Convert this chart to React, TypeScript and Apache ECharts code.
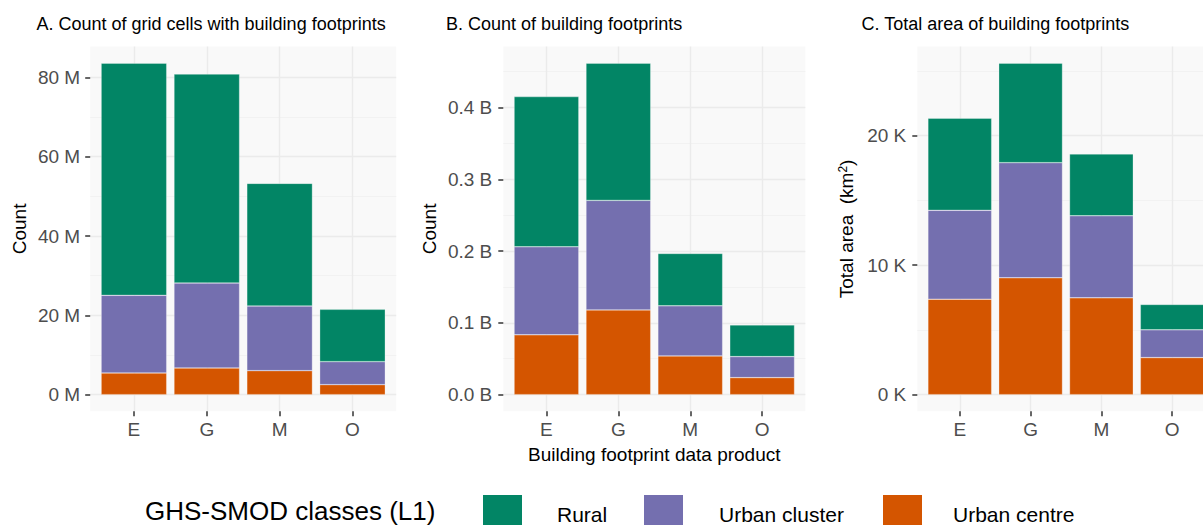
import React, { useEffect, useRef } from "react";
import * as echarts from "echarts";

// ---------------- data ----------------
const categories = ["E", "G", "M", "O"];
const classNames = ["Urban centre", "Urban cluster", "Rural"]; // stacking order, bottom to top
const classColors = ["#D45500", "#746FAF", "#028565"];

// A. Count of grid cells with building footprints
const cellsUrbanCentre = [5.46e6, 6.72e6, 6.05e6, 2.52e6];
const cellsUrbanCluster = [19.58e6, 21.43e6, 16.3e6, 5.8e6];
const cellsRural = [58.56e6, 52.69e6, 30.93e6, 13.19e6];
const cellsMajorTicks = [0, 20e6, 40e6, 60e6, 80e6];
const cellsMinorTicks = [10e6, 30e6, 50e6, 70e6];

// B. Count of building footprints
const footprintsUrbanCentre = [0.0833e9, 0.1181e9, 0.054e9, 0.0237e9];
const footprintsUrbanCluster = [0.1227e9, 0.1526e9, 0.0697e9, 0.0293e9];
const footprintsRural = [0.2093e9, 0.1912e9, 0.073e9, 0.0442e9];
const footprintsMajorTicks = [0, 0.1e9, 0.2e9, 0.3e9, 0.4e9];
const footprintsMinorTicks = [0.05e9, 0.15e9, 0.25e9, 0.35e9, 0.45e9];

// C. Total area of building footprints (km²)
const areaUrbanCentre = [7370, 9020, 7470, 2860];
const areaUrbanCluster = [6860, 8890, 6340, 2140];
const areaRural = [7110, 7680, 4770, 1960];
const areaMajorTicks = [0, 10000, 20000];
const areaMinorTicks = [5000, 15000, 25000];

const FONT = "'Liberation Sans', Arial, Helvetica, sans-serif";

type Panel = {
  title: string;
  titleLeft: number;
  left: number;
  width: number;
  stacks: number[][];
  majors: number[];
  minors: number[];
  fmt: (v: number) => string;
  yName: string;
  yNameGap: number;
  labelMargin: number;
  xName?: string;
};

const panels: Panel[] = [
  {
    title: "A. Count of grid cells with building footprints",
    titleLeft: 36.5,
    left: 90.2,
    width: 306,
    stacks: [cellsUrbanCentre, cellsUrbanCluster, cellsRural],
    majors: cellsMajorTicks,
    minors: cellsMinorTicks,
    fmt: (v) => `${Math.round(v / 1e6)} M`,
    yName: "Count",
    yNameGap: 61,
    labelMargin: 10,
  },
  {
    title: "B. Count of building footprints",
    titleLeft: 446,
    left: 503.3,
    width: 302,
    stacks: [footprintsUrbanCentre, footprintsUrbanCluster, footprintsRural],
    majors: footprintsMajorTicks,
    minors: footprintsMinorTicks,
    fmt: (v) => `${(v / 1e9).toFixed(1)} B`,
    yName: "Count",
    yNameGap: 64,
    labelMargin: 11,
    xName: "Building footprint data product",
  },
  {
    title: "C. Total area of building footprints",
    titleLeft: 861.5,
    left: 917.3,
    width: 297.4,
    stacks: [areaUrbanCentre, areaUrbanCluster, areaRural],
    majors: areaMajorTicks,
    minors: areaMinorTicks,
    fmt: (v) => `${Math.round(v / 1000)} K`,
    yName: "Total area  (km{sup|2})",
    yNameGap: 61,
    labelMargin: 11,
  },
];

const GRID_TOP = 46.6;
const GRID_HEIGHT = 364.6;
// ggplot discrete-axis expansion: 0.6 category units on each side
const X_EXPAND = 0.6;

function buildOption() {
  const grid: any[] = [];
  const xAxis: any[] = [];
  const yAxis: any[] = [];
  const series: any[] = [];
  const title: any[] = [];

  const n = categories.length;
  const span = n - 1 + 2 * X_EXPAND;

  panels.forEach((p, pi) => {
    const totals = categories.map((_, i) => p.stacks.reduce((s, arr) => s + arr[i], 0));
    const maxTotal = Math.max(...totals);
    const yMin = -0.05 * maxTotal;
    const yMax = 1.05 * maxTotal;
    const unit = p.width / span;

    const bgGrid = grid.length;
    // background grid: panel fill, gridlines, ticks and labels
    grid.push({
      left: p.left,
      top: GRID_TOP,
      width: p.width,
      height: GRID_HEIGHT,
      show: true,
      backgroundColor: "#F9F9F9",
      borderWidth: 0,
      containLabel: false,
      outerBoundsMode: "none",
    });
    const barGrid = grid.length;
    // bar grid: category bands, inset so that band centres match the ticks
    grid.push({
      left: p.left + (X_EXPAND - 0.5) * unit,
      top: GRID_TOP,
      width: n * unit,
      height: GRID_HEIGHT,
      show: false,
      containLabel: false,
      outerBoundsMode: "none",
    });

    const catPositions = categories.map((_, i) => i + 1);
    const bgX = xAxis.length;
    xAxis.push({
      type: "value",
      gridIndex: bgGrid,
      min: 1 - X_EXPAND,
      max: n + X_EXPAND,
      position: "bottom",
      name: p.xName || "",
      nameLocation: "middle",
      nameGap: 34,
      nameTextStyle: { fontSize: 19, color: "#000", fontFamily: FONT },
      axisLine: { show: false, onZero: false },
      axisTick: {
        show: true,
        customValues: catPositions,
        length: 5,
        lineStyle: { color: "#333333", width: 1.5 },
      },
      axisLabel: {
        customValues: catPositions,
        margin: 9,
        fontSize: 19,
        color: "#4D4D4D",
        fontFamily: FONT,
        formatter: (v: number) => categories[Math.round(v) - 1] ?? "",
      },
      splitLine: { show: true, lineStyle: { color: "#EBEBEB", width: 1.4 } },
      minorSplitLine: { show: false },
    });
    const barX = xAxis.length;
    xAxis.push({
      type: "category",
      gridIndex: barGrid,
      data: categories,
      boundaryGap: true,
      show: false,
      axisLine: { onZero: false },
    });

    // major y axis (labels, ticks, major gridlines)
    yAxis.push({
      type: "value",
      gridIndex: bgGrid,
      min: yMin,
      max: yMax,
      position: "left",
      name: p.yName,
      nameLocation: "middle",
      nameGap: p.yNameGap,
      nameTextStyle: {
        fontSize: 19,
        color: "#000",
        fontFamily: FONT,
        rich: { sup: { fontSize: 12, verticalAlign: "top", color: "#000", fontFamily: FONT } },
      },
      axisLine: { show: false, onZero: false },
      axisTick: {
        show: true,
        customValues: p.majors,
        length: 5,
        lineStyle: { color: "#333333", width: 1.5 },
      },
      axisLabel: {
        customValues: p.majors,
        margin: p.labelMargin,
        fontSize: 19,
        color: "#4D4D4D",
        fontFamily: FONT,
        formatter: (v: number) => p.fmt(v),
      },
      splitLine: { show: true, lineStyle: { color: "#EBEBEB", width: 1.4 } },
    });
    // minor y axis (minor gridlines only)
    yAxis.push({
      type: "value",
      gridIndex: bgGrid,
      min: yMin,
      max: yMax,
      position: "right",
      axisLine: { show: false, onZero: false },
      axisTick: { show: false, customValues: p.minors },
      axisLabel: { show: false, customValues: p.minors },
      splitLine: { show: true, lineStyle: { color: "#F0F0F0", width: 0.8 } },
    });
    const barY = yAxis.length;
    yAxis.push({
      type: "value",
      gridIndex: barGrid,
      min: yMin,
      max: yMax,
      show: false,
    });

    // dummy reference to bgX to keep linter quiet
    void bgX;

    p.stacks.forEach((vals, si) => {
      series.push({
        type: "bar",
        name: classNames[si],
        xAxisIndex: barX,
        yAxisIndex: barY,
        stack: "panel" + pi,
        barWidth: "90%",
        data: vals,
        itemStyle: {
          color: classColors[si],
          borderColor: "rgba(255,255,255,0.6)",
          borderWidth: 0.5,
        },
        emphasis: { disabled: true },
        z: 3,
      });
    });

    title.push({
      text: p.title,
      left: p.titleLeft,
      top: 15,
      padding: 0,
      textStyle: { fontSize: 18, fontWeight: "normal", color: "#000", fontFamily: FONT },
    });
  });

  title.push({
    text: "GHS-SMOD classes (L1)",
    left: 145,
    top: 498,
    padding: 0,
    textStyle: { fontSize: 26, fontWeight: "normal", color: "#000", fontFamily: FONT },
  });

  const legendSpecs = [
    { name: "Rural", left: 483, textGap: 35 },
    { name: "Urban cluster", left: 644, textGap: 36 },
    { name: "Urban centre", left: 883, textGap: 31 },
  ];
  const legend = legendSpecs.map((l) => ({
    data: [l.name],
    left: l.left,
    top: 495,
    padding: 0,
    itemGap: 0,
    itemWidth: 39,
    itemHeight: 39,
    icon: "rect",
    itemStyle: { borderWidth: 0 },
    selectedMode: false,
    textStyle: {
      fontSize: 21,
      color: "#000",
      fontFamily: FONT,
      padding: [0, 0, 0, l.textGap - 5],
    },
  }));

  return {
    animation: false,
    backgroundColor: "#FFFFFF",
    textStyle: { fontFamily: FONT },
    title,
    legend,
    grid,
    xAxis,
    yAxis,
    series,
    tooltip: { show: false },
  };
}

export default function App() {
  const ref = useRef<HTMLDivElement>(null);
  useEffect(() => {
    if (!ref.current) return;
    const chart = echarts.init(ref.current, undefined, { renderer: "svg" });
    chart.setOption(buildOption() as any);
    return () => chart.dispose();
  }, []);
  return (
    <div
      ref={ref}
      style={{ position: "absolute", left: 0, top: 0, width: 1203, height: 525 }}
    />
  );
}
